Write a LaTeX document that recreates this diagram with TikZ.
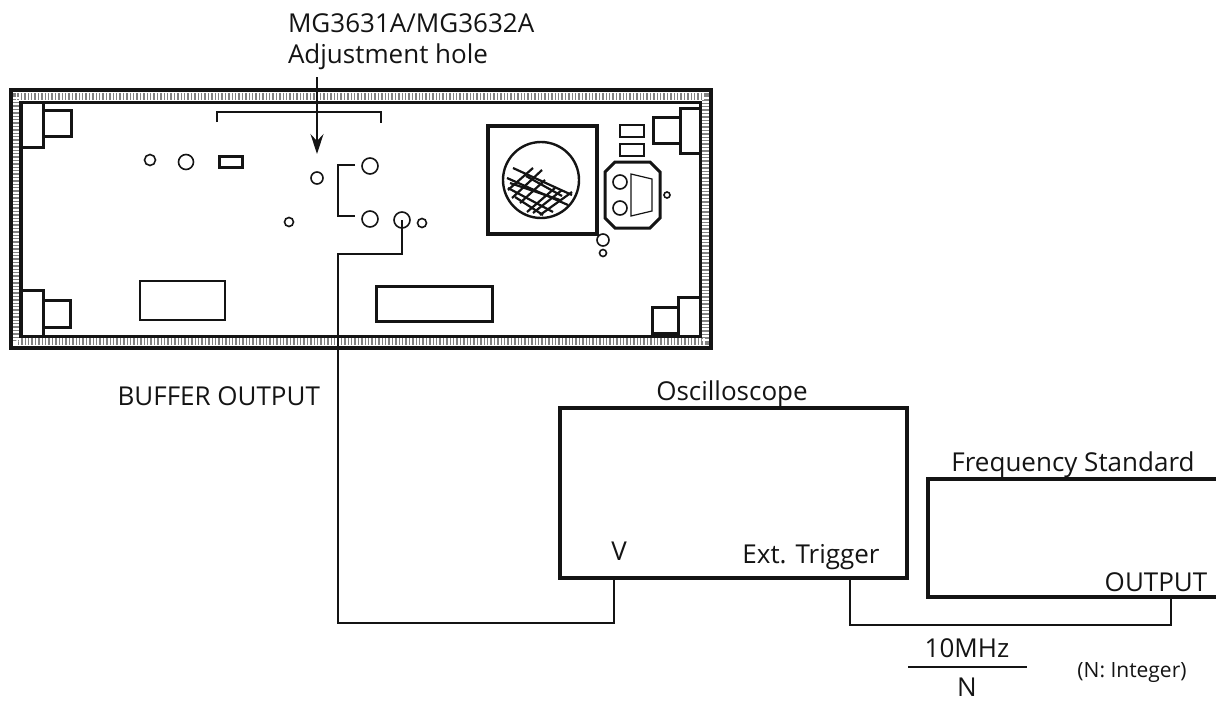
\documentclass[tikz,border=0pt]{standalone}
\usepackage{fontspec}
\setmainfont{Open Sans}
\usepackage{tikz}
\usetikzlibrary{arrows.meta,positioning,calc}
\definecolor{paperInk}{RGB}{20,20,20}
\definecolor{bandGray}{RGB}{130,130,130}

\begin{document}
\begin{tikzpicture}[
    x=1pt, y=-1pt,
    every node/.style={inner sep=0pt, outer sep=0pt, text=paperInk},
    label/.style={font=\fontsize{26}{30}\selectfont, anchor=base},
    smalllabel/.style={font=\fontsize{21}{25}\selectfont, anchor=base},
    hole/.style={circle, draw=paperInk, line width=1.6pt, fill=white},
    instrument/.style={rectangle, draw=paperInk, line width=3.6pt, fill=white},
    panelbox/.style={draw=paperInk, line width=3pt, fill=white},
    cable/.style={draw=paperInk, line width=1.3pt}
]
    \useasboundingbox (0,0) rectangle (1216,702);

    % Panel frame
    \draw[paperInk, line width=4.5pt] (11,90) rectangle (711,348);
    \draw[bandGray, line width=7pt] (16,96.5) rectangle (705,341.5);
    \draw[white, line width=7pt, dash pattern=on 2pt off 1.4pt] (16,96.5) rectangle (705,341.5);
    \draw[paperInk, line width=3.6pt] (21,102.5) rectangle (700.5,336.5);

    % Clamps
    \draw[panelbox] (43,110) rectangle (71,136);
    \draw[panelbox] (21,102) rectangle (43,147);
    \draw[panelbox] (43,300) rectangle (70,327);
    \draw[panelbox] (21,290) rectangle (43,336);
    \draw[panelbox] (653,117) rectangle (680,143);
    \draw[panelbox] (680,108) rectangle (700,153);
    \draw[panelbox] (652,307) rectangle (678,333);
    \draw[panelbox] (678,297) rectangle (700,336);

    % Brackets
    \draw[cable] (217,122) |- (381,112) -- (381,123);
    \draw[cable] (355,165) -| (338,216) -- (355,216);

    % Holes
    \node[hole, minimum size=11pt] (hole1) at (150,160) {};
    \node[hole, minimum size=15pt] (hole2) at (186,162) {};
    \draw[paperInk, line width=3pt, fill=white] (219,156) rectangle (242,167);
    \node[hole, minimum size=12pt] (adjhole) at (317,178) {};
    \node[hole, minimum size=9pt] (hole3) at (289,222) {};
    \node[hole, minimum size=16pt] (hole4) at (370,166) {};
    \node[hole, minimum size=16pt] (hole5) at (370,219) {};
    \node[hole, minimum size=16pt] (bufferout) at (402,220) {};
    \node[hole, minimum size=9pt] (hole6) at (422,223) {};

    % Panel windows
    \draw[paperInk, line width=1.5pt] (140,281) rectangle (225,320);
    \draw[paperInk, line width=3pt] (376,286) rectangle (492,321);

    % Display
    \draw[paperInk, line width=3.6pt] (488,126) rectangle (597,234);
    \begin{scope}
        \clip (541,180) circle (38);
        \foreach \xa/\ya/\xb/\yb in {513/168/572/195, 507/178/568/205, 508/188/553/212, 515/197/543/215,
            510/183/560/200, 533/168/508/190, 542/170/512/198, 545/180/520/203, 555/188/527/212,
            572/192/540/215, 562/190/533/213, 526/176/562/196} {
            \draw[paperInk, line width=2.2pt] (\xa,\ya) -- (\xb,\yb);
        }
    \end{scope}
    \draw[paperInk, line width=2.4pt] (541,180) circle (38);

    % Connector block
    \draw[panelbox, line width=2.2pt] (620,125) rectangle (644,137);
    \draw[panelbox, line width=2.2pt] (620,144) rectangle (644,156);
    \draw[panelbox] (615,162) -- (650,162) -- (660,172) -- (660,218) -- (650,228) -- (615,228) -- (605,218) -- (605,172) -- cycle;
    \node[hole, minimum size=14pt] (conn1) at (620,182) {};
    \node[hole, minimum size=14pt] (conn2) at (620,208) {};
    \draw[paperInk, line width=1.2pt] (631,174) -- (652,179) -- (652,211) -- (631,216) -- cycle;
    \node[hole, minimum size=6pt] (hole7) at (667,195) {};
    \node[hole, minimum size=12pt] (hole8) at (603,240) {};
    \node[hole, minimum size=7pt] (hole9) at (603,253) {};

    % Instruments
    \node[instrument, minimum width=347pt, minimum height=170pt] (scope) at (733.5,493) {};
    \coordinate (scopev) at (614,578);
    \coordinate (scopetrig) at (850,578);
    \draw[paperInk, line width=3.6pt] (1220,479) -| (928,597) -- (1220,597);
    \coordinate (freqout) at (1171,597);

    % Text
    \node[label, anchor=base west] (partno) at (288,32) {MG3631A/MG3632A};
    \node[label, anchor=base west] (adjtext) at (288,63) {Adjustment hole};
    \node[label, anchor=base east] (buffertext) at (320,405) {BUFFER OUTPUT};
    \node[label] (scopetext) at (732,400) {Oscilloscope};
    \node[label] (vtext) at (619,560) {V};
    \node[label] (trigtext) at (811,563) {Ext. Trigger};
    \node[label] (freqtext) at (1073,471) {Frequency Standard};
    \node[label] (outtext) at (1156,591) {OUTPUT};
    \node[label] (freqnum) at (967,657) {10MHz};
    \node[label] (freqden) at (967,696) {N};
    \node[smalllabel] (inttext) at (1132,677) {(N: Integer)};
    \draw[paperInk, line width=1.4pt] (908,667) -- (1027,667);

    % Connections
    \draw[paperInk, line width=1.3pt, -{Stealth[length=20pt,width=13pt,inset=7pt]}] ($(adjtext.south -| adjhole)+(0,8)$) -- ($(adjhole.north)+(0,-18)$);
    \draw[cable] (bufferout.center) -- (402,254) -| (338,623) -| (scopev);
    \draw[cable] (scopetrig) -- (850,625) -| (freqout);
\end{tikzpicture}
\end{document}
